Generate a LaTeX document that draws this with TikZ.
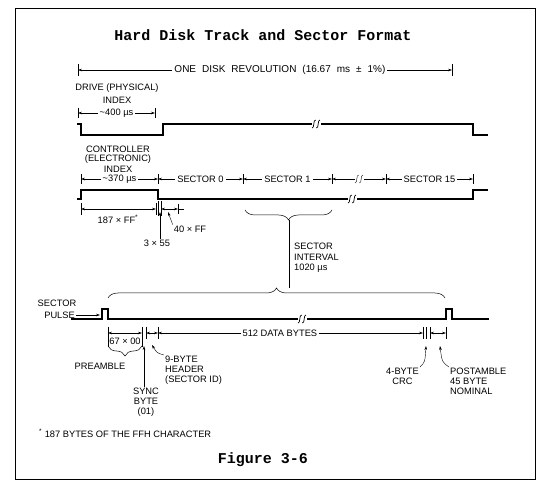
\documentclass[tikz,border=0pt]{standalone}
\usepackage{fontspec}
\setmainfont{Liberation Sans}
\newfontfamily\typefont{Liberation Mono}
\usetikzlibrary{arrows.meta,decorations.pathreplacing}

\tikzset{
  wave/.style={line width=1.1pt},
  dimline/.style={line width=0.4pt,{Stealth[length=4pt,width=2.6pt]}-{Stealth[length=4pt,width=2.6pt]}},
  tick/.style={line width=0.5pt},
  lbl/.style={font=\fontsize{9.3}{10}\selectfont,inner sep=1pt},
  gaplbl/.style={lbl,fill=white,inner sep=2pt},
  callout/.style={line width=0.4pt,-{Stealth[length=4pt,width=2.6pt]}},
  bracelow/.style={line width=0.5pt,decorate,decoration={brace,amplitude=10pt,mirror}},
  braceup/.style={line width=0.5pt,decorate,decoration={brace,amplitude=10pt}},
  heading/.style={font=\typefont\bfseries\fontsize{15}{16}\selectfont},
}
% break mark on a line: x, y, stroke width
\newcommand{\wavebreak}[3]{%
  \fill[white] (#1-4.5,#2-4) rectangle (#1+4.5,#2+4);
  \foreach \dx in {-2.2,2.2}
    \draw[line width=#3] (#1+\dx-1.8,#2+4) .. controls (#1+\dx+0.8,#2+4.5) and (#1+\dx-0.8,#2-4.5) .. (#1+\dx+1.8,#2-4);
}
\newcommand{\widewords}{\fontsize{10}{11}\selectfont\spaceskip=6pt plus 1pt\relax}

\begin{document}
\begin{tikzpicture}[x=1pt,y=-1pt]
\useasboundingbox (0,0) rectangle (547,489);
\draw[line width=0.8pt] (15,8) rectangle (535,479);
\node[heading] (title) at (263,35) {Hard Disk Track and Sector Format};

% one revolution
\coordinate (revL) at (78,70); \coordinate (revR) at (452,70);
\draw[tick] (78,64)--(78,76); \draw[tick] (452,64)--(452,76);
\draw[dimline] (revL)--(revR) node[gaplbl,pos=0.54] (rev) {\widewords ONE DISK REVOLUTION (16.67 ms ± 1\%)};

% drive index
\node[lbl] (drv) at (117,88) {DRIVE (PHYSICAL)};
\node[lbl] (drvidx) at (117,100) {INDEX};
\draw[tick] (78,108)--(78,118); \draw[tick] (155,108)--(155,118);
\draw[dimline] (78,113)--(155,113) node[gaplbl,midway] (t400) {\textasciitilde400 µs};
\draw[wave] (77,124)--(81,124)--(81,135)--(163,135)--(163,124)--(473,124)--(473,135)--(488,135);
\wavebreak{316}{124}{0.7pt}

% controller index and sectors
\node[lbl] (ctl) at (118,149) {CONTROLLER};
\node[lbl] (ctlel) at (118,159) {(ELECTRONIC)};
\node[lbl] (ctlidx) at (118,169) {INDEX};
\foreach \a/\b/\t in {81/158/{\textasciitilde370 µs},158/243/{SECTOR 0},243/332/{SECTOR 1},386/473/{SECTOR 15}}
  \draw[dimline] (\a,179)--(\b,179) node[gaplbl,midway] (lab\a) {\t};
\draw[dimline] (332,179)--(386,179);
\wavebreak{359}{179}{0.4pt}
\foreach \x in {81,158,243,332,386,473} \draw[tick] (\x,174)--(\x,184);
\draw[wave] (77,199)--(81,199)--(81,190)--(158,190)--(158,199)--(473,199)--(473,190)--(488,190);
\wavebreak{352}{199}{0.7pt}

% gap bytes
\draw[tick] (81,203)--(81,215); \draw[tick] (156,203)--(156,215);
\draw[dimline] (81,209)--(156,209);
\node[lbl] (ff187) at (118,219) {187 × FF\textsuperscript{*}};
\draw[tick] (158,201)--(158,216); \draw[tick] (161,201)--(161,216);
\draw[dimline] (161,209)--(178,209);
\draw[tick] (178,204)--(178,214); \draw[tick] (178,209)--(184,209);
\node[lbl] (ff40) at (190,229) {40 × FF};
\node[lbl] (s55) at (157,243) {3 × 55};
\draw[callout] (s55.north -| 160,0)--(160,212);
\draw[callout] (ff40.north west)--(168,212);

% sector interval
\draw[bracelow] (245,210)--(332,210);
\coordinate (ivtop) at (289,220); \coordinate (ivbot) at (289,288);
\draw[line width=0.5pt] (ivtop)--(ivbot);
\node[lbl,anchor=west] (iv1) at (293,246) {SECTOR};
\node[lbl,anchor=west] (iv2) at (293,257) {INTERVAL};
\node[lbl,anchor=west] (iv3) at (293,268) {1020 µs};
\draw[braceup] (108,298)--(445,298);

% sector pulse
\node[lbl] (spl) at (57,303) {SECTOR};
\node[lbl,anchor=east] (spp) at (76,315) {PULSE};
\draw[wave] (71,319)--(102,319)--(102,309)--(108,309)--(108,319)--(446,319)--(446,309)--(452,309)--(452,319)--(489,319);
\wavebreak{302}{319}{0.7pt}
\draw[callout] (spp.east)--(100,315);

% sector fields
\foreach \x in {108,142} \draw[tick] (\x,327)--(\x,347);
\foreach \x in {146,158,423,426,430,446} \draw[tick] (\x,327)--(\x,339);
\draw[dimline] (108,333)--(142,333);
\draw[dimline] (146,333)--(158,333);
\draw[dimline] (158,333)--(423,333) node[gaplbl,pos=0.46] (data) {512 DATA BYTES};
\draw[dimline] (430,333)--(446,333);
\node[lbl] (pre67) at (125,341) {67 × 00};
\draw[bracelow] (108,346)--(142,346);
\node[lbl] (pream) at (100,366) {PREAMBLE};
\node[lbl,align=center] (sync) at (146,402) {SYNC\\BYTE\\(01)};
\draw[callout] (sync.north -| 144,0)--(144,346);
\node[lbl,align=left,anchor=north west] (hdr) at (164,355) {9-BYTE\\HEADER\\(SECTOR ID)};
\draw[callout] (hdr.north west) .. controls (157,353) .. (152,345);
\node[lbl,align=center,anchor=north east] (crc) at (420,367) {4-BYTE\\CRC};
\draw[callout] (crc.north east) .. controls (425,362) .. (426,346);
\node[lbl,align=left,anchor=north west] (post) at (449,367) {POSTAMBLE\\45 BYTE\\NOMINAL};
\draw[callout] (post.north west) .. controls (442,362) .. (440,346);

\node[lbl,anchor=west] (note) at (38,433) {\textsuperscript{*} 187 BYTES OF THE FFH CHARACTER};
\node[heading] (fig) at (263,460) {Figure 3-6};
\end{tikzpicture}
\end{document}
